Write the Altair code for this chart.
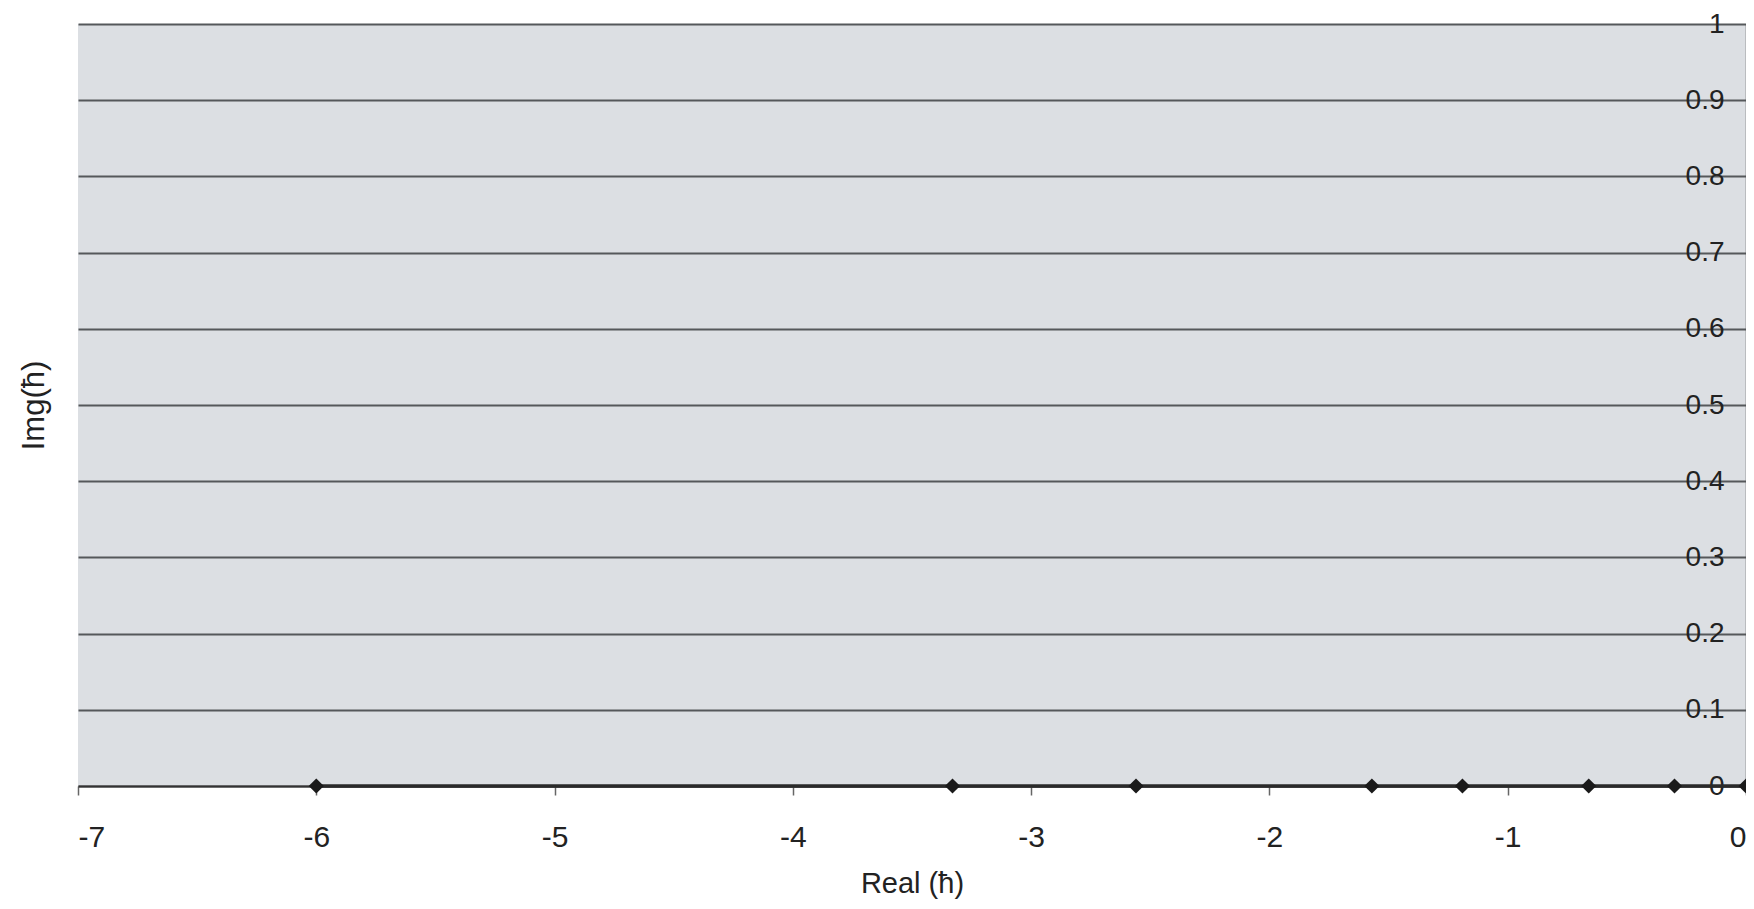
import altair as alt
import pandas as pd

# Data
real_vals = [-6.0, -3.33, -2.56, -1.57, -1.19, -0.66, -0.30, 0.0]
imag_vals = [0, 0, 0, 0, 0, 0, 0, 0]
x_ticks = [-7, -6, -5, -4, -3, -2, -1, 0]
y_ticks = [0, 0.1, 0.2, 0.3, 0.4, 0.5, 0.6, 0.7, 0.8, 0.9, 1]

df = pd.DataFrame({"re": real_vals, "im": imag_vals})

W = 1668
H = 762
FONT = "Liberation Sans"

x_enc = alt.X(
    "re:Q",
    scale=alt.Scale(domain=[-7, 0], nice=False, zero=False),
    axis=alt.Axis(
        values=x_ticks,
        labelExpr="'' + datum.value",
        title="Real (ħ)",
        grid=False,
        domain=True,
        domainColor="#333333",
        domainWidth=2,
        ticks=True,
        tickSize=9,
        tickColor="#666666",
        tickWidth=1.5,
        labelFontSize=30,
        labelColor="#222222",
        labelFont=FONT,
        labelPadding=27,
        titleFontSize=29,
        titleFont=FONT,
        titleFontWeight="normal",
        titleColor="#222222",
        titlePadding=17,
    ),
)

y_enc = alt.Y(
    "im:Q",
    scale=alt.Scale(domain=[0, 1], nice=False, zero=False),
    axis=alt.Axis(
        orient="left",
        offset=-W,
        values=y_ticks,
        labelExpr="'' + datum.value",
        title="Img(ħ)",
        titleX=-W - 44,
        titleY=H / 2,
        titleAngle=-90,
        titleAlign="center",
        titleBaseline="middle",
        titleFontSize=31,
        titleFont=FONT,
        titleFontWeight="normal",
        titleColor="#222222",
        grid=True,
        gridColor="#55585b",
        gridWidth=1.8,
        gridOpacity=1,
        domain=True,
        domainColor="#555555",
        domainWidth=1.5,
        ticks=False,
        labelFontSize=28,
        labelFont=FONT,
        labelColor="#222222",
        labelPadding=22,
    ),
)

line = alt.Chart(df).mark_line(color="#2a2a2a", strokeWidth=3.5).encode(x=x_enc, y=y_enc)
pts = alt.Chart(df).mark_point(
    shape="diamond", filled=True, color="#1a1a1a", size=230, opacity=1
).encode(x=x_enc, y=y_enc)

chart = (
    alt.layer(line, pts)
    .properties(
        width=W,
        height=H,
        autosize=alt.AutoSizeParams(type="none"),
        padding={"left": 70, "top": 16, "right": 0, "bottom": 115},
        background="white",
    )
    .configure_view(fill="#dcdfe3", stroke=None)
)

chart.save("out.html", embed_options={"renderer": "svg", "actions": False})
